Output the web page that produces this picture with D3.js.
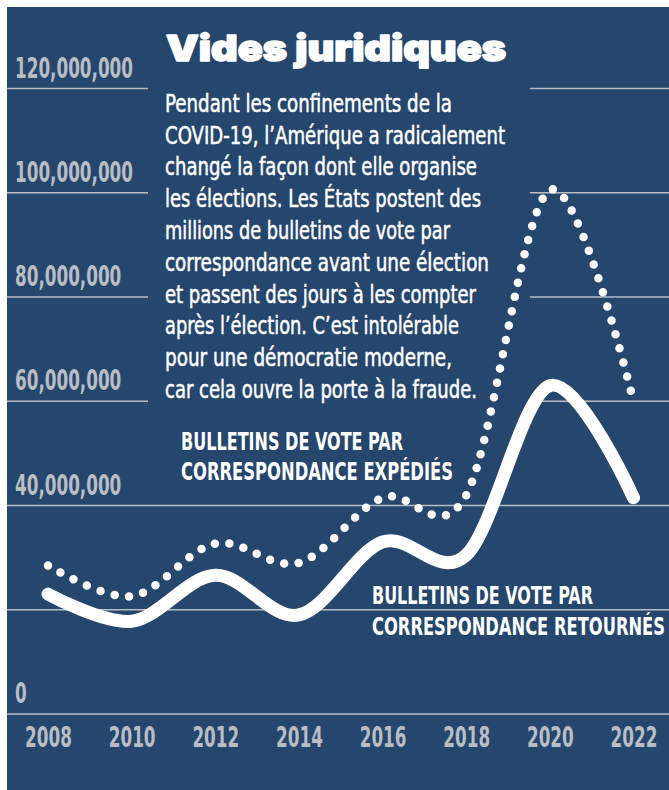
<!DOCTYPE html>
<html>
<head>
<meta charset="utf-8">
<script src="https://cdn.jsdelivr.net/npm/d3@7"></script>
<style>
  body { margin: 0; background: #ffffff; }
  svg { display: block; }
</style>
</head>
<body>
<script>
// chart data (values in ballots)
const years = [2008, 2010, 2012, 2014, 2016, 2018, 2020, 2022];
const ballotsSent = [28.5e6, 22.6e6, 32.7e6, 29.0e6, 41.5e6, 42.0e6, 100.5e6, 60.0e6];
const ballotsReturned = [23.0e6, 17.8e6, 26.6e6, 19.0e6, 33.0e6, 30.5e6, 63.0e6, 41.5e6];
const yTicks = [0, 20e6, 40e6, 60e6, 80e6, 100e6, 120e6];
const yTickLabels = ["0", "", "40,000,000", "60,000,000", "80,000,000", "100,000,000", "120,000,000"];

const title = "Vides juridiques";
const bodyLines = [
  "Pendant les confinements de la",
  "COVID-19, l\u2019Am\u00e9rique a radicalement",
  "chang\u00e9 la fa\u00e7on dont elle organise",
  "les \u00e9lections. Les \u00c9tats postent des",
  "millions de bulletins de vote par",
  "correspondance avant une \u00e9lection",
  "et passent des jours \u00e0 les compter",
  "apr\u00e8s l\u2019\u00e9lection. C\u2019est intol\u00e9rable",
  "pour une d\u00e9mocratie moderne,",
  "car cela ouvre la porte \u00e0 la fraude."
];
const sentLabel = ["BULLETINS DE VOTE PAR", "CORRESPONDANCE EXP\u00c9DI\u00c9S"];
const returnedLabel = ["BULLETINS DE VOTE PAR", "CORRESPONDANCE RETOURN\u00c9S"];

// layout
const W = 669, H = 790;
const navy = "#25466d";
const grey = "#b9bdc4";
const condensed = "'Liberation Sans Narrow', 'DejaVu Sans Condensed', 'Arial Narrow', sans-serif";
const bodyWidths = [287, 340, 312, 316, 285, 324, 311, 294, 287, 312];

const svg = d3.select("body").append("svg")
    .attr("width", W)
    .attr("height", H);

svg.append("rect")
    .attr("x", 7).attr("y", 7)
    .attr("width", W - 7).attr("height", H - 7)
    .attr("fill", navy);

const x = d3.scaleLinear().domain([2008, 2022]).range([48, 633.5]);
const y = d3.scaleLinear().domain([0, 120e6]).range([714, 88.5]);

// squeeze text to a target width
function fit(sel, w) {
    sel.each(function() {
        if (this.getComputedTextLength() > 0) {
            d3.select(this).attr("textLength", w).attr("lengthAdjust", "spacingAndGlyphs");
        }
    });
}

// gridlines (upper ones are cut by the text block)
const grid = svg.append("g");
yTicks.forEach(v => {
    const segs = v >= 60e6 ? [[7, 148], [530, W]] : [[7, W]];
    segs.forEach(s => {
        grid.append("line")
            .attr("x1", s[0]).attr("x2", s[1])
            .attr("y1", y(v)).attr("y2", y(v))
            .attr("stroke", grey)
            .attr("stroke-width", 1.6);
    });
});

// y labels, sitting above their lines
const yLab = svg.append("g")
    .selectAll("text")
    .data(yTicks.map((v, i) => ({ v, label: yTickLabels[i] })).filter(d => d.label))
    .enter().append("text")
    .attr("x", 15)
    .attr("y", d => y(d.v) - 11)
    .attr("fill", grey)
    .style("font-family", condensed)
    .style("font-weight", "bold")
    .style("font-size", "28px")
    .text(d => d.label);

let k = 1;
yLab.each(function(d) {
    if (d.label === "120,000,000") {
        const n = this.getComputedTextLength();
        if (n > 0) k = 118 / n;
    }
});
yLab.each(function() {
    const n = this.getComputedTextLength();
    if (n > 0) d3.select(this).attr("textLength", n * k).attr("lengthAdjust", "spacingAndGlyphs");
});

// x axis
const xAxis = svg.append("g")
    .attr("transform", `translate(0, ${y(0)})`)
    .call(d3.axisBottom(x).tickValues(years).tickFormat(d3.format("d")).tickSize(0));
xAxis.select(".domain").remove();
xAxis.selectAll("text")
    .attr("y", 33)
    .attr("dy", 0)
    .attr("fill", grey)
    .style("font-family", condensed)
    .style("font-weight", "bold")
    .style("font-size", "28px")
    .each(function() {
        const n = this.getComputedTextLength();
        if (n > 0) d3.select(this).attr("textLength", n * k).attr("lengthAdjust", "spacingAndGlyphs");
    });

// curves
const line = d3.line()
    .x((d, i) => x(years[i]))
    .y(d => y(d))
    .curve(d3.curveCardinal.tension(0));

svg.append("path")
    .datum(ballotsSent)
    .attr("d", line)
    .attr("fill", "none")
    .attr("stroke", "#ffffff")
    .attr("stroke-width", 8.5)
    .attr("stroke-linecap", "round")
    .attr("stroke-dasharray", "0 14.6");

svg.append("path")
    .datum(ballotsReturned)
    .attr("d", line)
    .attr("fill", "none")
    .attr("stroke", "#ffffff")
    .attr("stroke-width", 13)
    .attr("stroke-linecap", "round");

// title, thickened with a stroke
svg.append("text")
    .attr("x", 166)
    .attr("y", 61)
    .attr("fill", "#ffffff")
    .attr("stroke", "#ffffff")
    .attr("stroke-width", 1.6)
    .attr("stroke-linejoin", "round")
    .style("font-family", "Inter, 'DejaVu Sans', sans-serif")
    .style("font-weight", 900)
    .style("font-size", "36px")
    .text(title)
    .call(fit, 340);

// body text
svg.append("g")
    .selectAll("text")
    .data(bodyLines)
    .enter().append("text")
    .attr("x", 165)
    .attr("y", (d, i) => 111.7 + i * 31.8)
    .attr("fill", "#ffffff")
    .attr("stroke", "#ffffff")
    .attr("stroke-width", 0.5)
    .style("font-family", condensed)
    .style("font-size", "24.5px")
    .text(d => d)
    .each(function(d, i) { d3.select(this).call(fit, bodyWidths[i]); });

// series labels
function seriesLabel(lines, x0, baselines, widths) {
    svg.append("g")
        .selectAll("text")
        .data(lines)
        .enter().append("text")
        .attr("x", x0)
        .attr("y", (d, i) => baselines[i])
        .attr("fill", "#ffffff")
        .style("font-family", condensed)
        .style("font-weight", "bold")
        .style("font-size", "25.5px")
        .text(d => d)
        .each(function(d, i) { d3.select(this).call(fit, widths[i]); });
}
seriesLabel(sentLabel, 181, [450, 480], [222, 272]);
seriesLabel(returnedLabel, 372, [604, 635], [221, 293]);
</script>
</body>
</html>
